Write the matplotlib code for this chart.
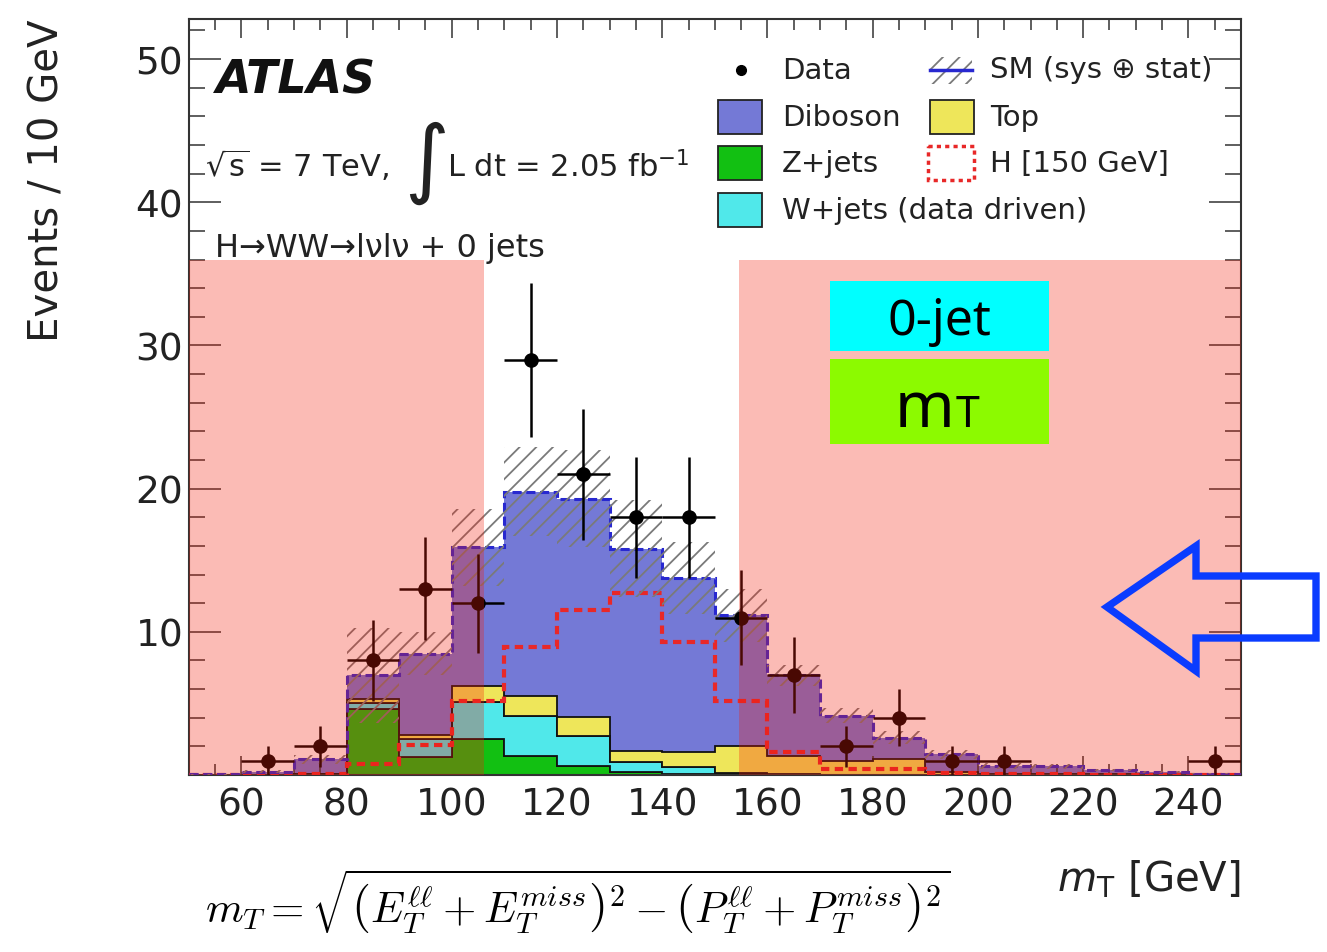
import numpy as np
import matplotlib.pyplot as plt
from matplotlib.patches import Rectangle, Polygon
from matplotlib.ticker import MultipleLocator, FixedLocator

W, H = 1327, 953

# 10 GeV bins from 50 to 250 GeV
edges = np.arange(50, 251, 10)
centers = edges[:-1] + 5

data = np.array([0, 1, 2, 8, 13, 12, 29, 21, 18, 18, 11, 7, 2, 4, 1, 1, 0, 0, 0, 1])
zjets = np.array([0, 0, 0.05, 4.6, 1.25, 2.5, 1.35, 0.65, 0.2, 0.1, 0.05, 0, 0, 0, 0, 0, 0, 0, 0, 0])
wjets = np.array([0, 0, 0, 0.45, 1.28, 2.58, 2.8, 2.1, 0.7, 0.45, 0.1, 0.05, 0, 0, 0, 0, 0, 0, 0, 0])
top = np.array([0, 0.02, 0.05, 0.25, 0.25, 1.17, 1.4, 1.3, 0.8, 1.05, 1.9, 1.3, 1.0, 1.15, 0.2, 0.05, 0.05, 0.05, 0.05, 0.05])
diboson = np.array([0.05, 0.2, 1.0, 1.65, 5.7, 9.65, 14.25, 15.25, 14.1, 12.15, 9.1, 5.6, 3.15, 1.45, 1.25, 0.6, 0.55, 0.3, 0.15, 0.05])
higgs = np.array([0, 0.05, 0.1, 0.77, 2.1, 5.2, 8.95, 11.55, 12.7, 9.3, 5.2, 1.6, 0.4, 0.4, 0.15, 0.1, 0.05, 0.02, 0, 0])
sm_err = np.array([0.02, 0.1, 0.3, 3.3, 1.5, 2.7, 3.1, 3.4, 3.4, 2.5, 1.85, 0.7, 0.5, 0.45, 0.3, 0.2, 0.15, 0.1, 0.05, 0.02])

# mT regions removed by the cut (shaded)
cut_regions = [(50, 106.2), (154.6, 250)]
cut_height = 36

c_dib = '#7479D6'
c_top = '#EEE65A'
c_z = '#12C012'
c_w = '#50E8EA'
c_h = '#E82828'
c_sm = '#2828D0'
txt = '#222222'

plt.rcParams['font.family'] = 'DejaVu Sans'
plt.rcParams['hatch.linewidth'] = 1.3

fig = plt.figure(figsize=(W / 100, H / 100), dpi=100)
ax = fig.add_axes([188.7 / W, 1 - 776 / H, (1241 - 188.7) / W, (776 - 20) / H])

b1 = zjets
b2 = b1 + wjets
b3 = b2 + top
total = b3 + diboson

ax.stairs(b1, edges, baseline=0, fill=True, facecolor=c_z, edgecolor='#111', lw=1.3, zorder=2)
ax.stairs(b2, edges, baseline=b1, fill=True, facecolor=c_w, edgecolor='#111', lw=1.3, zorder=2)
ax.stairs(b3, edges, baseline=b2, fill=True, facecolor=c_top, edgecolor='#111', lw=1.3, zorder=2)
ax.stairs(total, edges, baseline=b3, fill=True, facecolor=c_dib, lw=0, zorder=1)

ax.stairs(higgs, edges, baseline=None, color=c_h, lw=3, linestyle=(0, (2, 1.3)), zorder=3)
ax.stairs(total, edges, baseline=None, color=c_sm, lw=2.2, linestyle=(0, (3, 1.5)), zorder=3)

ax.stairs(total + sm_err, edges, baseline=np.clip(total - sm_err, 0, None), fill=True,
          facecolor='none', edgecolor='#7a7a7a', hatch='//', lw=0, zorder=4)

m = data > 0
ax.errorbar(centers[m], data[m], yerr=np.sqrt(data[m]), xerr=5, fmt='o', color='k',
            ms=9.5, elinewidth=1.8, capsize=0, zorder=5)

for x0, x1 in cut_regions:
    ax.add_patch(Rectangle((x0, 0), x1 - x0, cut_height, facecolor='#F51E0A', alpha=0.3,
                           lw=0, zorder=10))

ax.set_xlim(50, 250)
ax.set_ylim(0, 52.8)
ax.xaxis.set_major_locator(FixedLocator(np.arange(60, 241, 20)))
ax.xaxis.set_minor_locator(MultipleLocator(5))
ax.yaxis.set_major_locator(FixedLocator([10, 20, 30, 40, 50]))
ax.yaxis.set_minor_locator(MultipleLocator(2))
ax.tick_params(which='both', direction='in', top=True, right=True, colors='#333', width=1.1,
               labelsize=27, labelcolor=txt)
ax.tick_params(axis='x', which='major', length=14, pad=8.5)
ax.tick_params(axis='x', which='minor', length=8)
ax.tick_params(axis='y', which='major', length=23, pad=4)
ax.tick_params(axis='y', which='minor', length=11.5)
for s in ax.spines.values():
    s.set_linewidth(1.5)
    s.set_color('#333')

ax.set_xlabel(r'$m_{\mathrm{T}}$ [GeV]', loc='right', fontsize=29, color=txt)
ax.xaxis.set_label_coords(1.0, -0.11)
ax.set_ylabel('Events / 10 GeV', loc='top', fontsize=29, color=txt)
ax.yaxis.set_label_coords(-0.115, 1.0)

# overlay in pixel coordinates for legend, labels and annotations
ov = fig.add_axes([0, 0, 1, 1])
ov.set_xlim(0, W)
ov.set_ylim(H, 0)
ov.axis('off')

ov.text(216, 93, 'ATLAS', fontsize=33, weight='bold', style='italic', va='baseline', color='#111')
ov.text(205, 177, r'$\sqrt{\mathrm{s}}$ = 7 TeV,', fontsize=22, va='baseline', color=txt)
ov.text(404, 163, '∫', fontsize=62, va='center', color=txt)
ov.text(447, 177, r'L dt = 2.05 fb$^{-1}$', fontsize=22, va='baseline', color=txt)
ov.text(215, 257, 'H→WW→lνlν + 0 jets', fontsize=23, va='baseline', color=txt)

# legend
lfs = 21
ov.plot(741, 71, 'o', color='k', ms=7)
ov.text(782, 71, 'Data', fontsize=lfs, va='center', color=txt)
ov.add_patch(Rectangle((930, 58), 42, 27, facecolor='none', edgecolor='#7a7a7a', hatch='//', lw=0))
ov.plot([930, 972], [71, 71], color=c_sm, lw=2.5)
ov.text(990, 70, 'SM (sys ⊕ stat)', fontsize=lfs, va='center', color=txt)
legend_boxes = [
    ((718, 101), c_dib, 'Diboson'),
    ((930, 101), c_top, 'Top'),
    ((718, 147), c_z, 'Z+jets'),
    ((718, 194), c_w, 'W+jets (data driven)'),
]
for (x, y), c, lab in legend_boxes:
    ov.add_patch(Rectangle((x, y), 44, 34, facecolor=c, edgecolor='#222', lw=1.3))
    ov.text(x + 64 if x < 900 else x + 60, y + 17, lab, fontsize=lfs, va='center', color=txt)
ov.add_patch(Rectangle((928, 147), 46, 34, facecolor='none', edgecolor=c_h, lw=2.5,
                       linestyle=(0, (1.2, 1.2))))
ov.text(990, 164, 'H [150 GeV]', fontsize=lfs, va='center', color=txt)

# labels of the selection step
ov.add_patch(Rectangle((830, 282), 219, 70, facecolor='#00FFFF', lw=0))
ov.text(939.5, 335, '0-jet', fontsize=36, family='Noto Sans', ha='center', va='baseline', color='k')
ov.add_patch(Rectangle((830, 360), 219, 85, facecolor='#8CFA00', lw=0))
ov.text(954, 427, 'm', fontsize=46, family='Noto Sans', ha='right', va='baseline', color='k')
ov.text(956, 427, 'T', fontsize=31, family='Noto Sans', va='baseline', color='k')

ov.add_patch(Polygon([(1107, 608), (1196, 547), (1196, 577), (1316, 577), (1316, 639),
                      (1196, 639), (1196, 672)], closed=True, fill=False,
                     edgecolor='#0A3CFF', lw=5.3, joinstyle='miter'))

ov.text(205, 902,
        r'$m_T = \sqrt{\left(E_T^{\ell\ell} + E_T^{miss}\right)^2 - \left(P_T^{\ell\ell} + P_T^{miss}\right)^2}$',
        fontsize=31, math_fontfamily='cm', va='center', color='k')

fig.savefig('out.png', dpi=100)
